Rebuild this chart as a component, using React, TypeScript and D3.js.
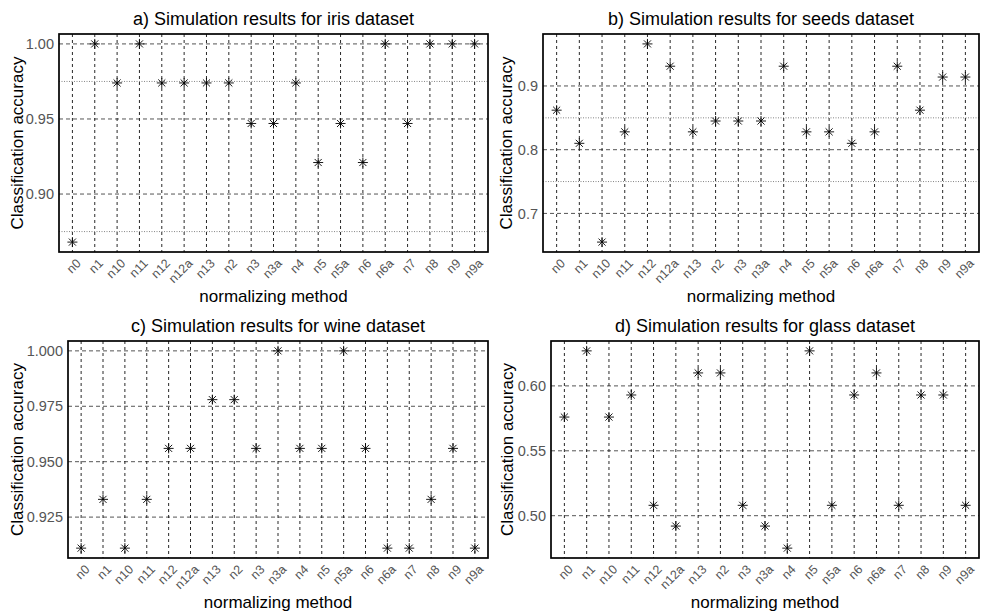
import React from "react";
import * as d3 from "d3";

const methods = ["n0","n1","n10","n11","n12","n12a","n13","n2","n3","n3a","n4","n5","n5a","n6","n6a","n7","n8","n9","n9a"];

const irisAcc = [0.868,1.0,0.974,1.0,0.974,0.974,0.974,0.974,0.947,0.947,0.974,0.921,0.947,0.921,1.0,0.947,1.0,1.0,1.0];
const seedsAcc = [0.862,0.810,0.655,0.828,0.966,0.931,0.828,0.845,0.845,0.845,0.931,0.828,0.828,0.810,0.828,0.931,0.862,0.914,0.914];
const wineAcc = [0.911,0.933,0.911,0.933,0.956,0.956,0.978,0.978,0.956,1.0,0.956,0.956,1.0,0.956,0.911,0.911,0.933,0.956,0.911];
const glassAcc = [0.576,0.627,0.576,0.593,0.508,0.492,0.610,0.610,0.508,0.492,0.475,0.627,0.508,0.593,0.610,0.508,0.593,0.593,0.508];

const irisTicks = [0.90,0.95,1.00];
const seedsTicks = [0.7,0.8,0.9];
const wineTicks = [0.925,0.950,0.975,1.000];
const glassTicks = [0.50,0.55,0.60];

const irisMinor = [0.875,0.975];
const seedsMinor = [0.75,0.85];

const titles = [
  "a) Simulation results for iris dataset",
  "b) Simulation results for seeds dataset",
  "c) Simulation results for wine dataset",
  "d) Simulation results for glass dataset",
];

const FONT = "'Liberation Sans', Arial, sans-serif";

type PanelProps = {
  title: string;
  values: number[];
  ticks: number[];
  minor: number[];
  fmt: string;
  x0: number; x1: number; y0: number; y1: number;
  ytitleX: number;
};

function Star({ cx, cy, r }: { cx: number; cy: number; r: number }) {
  const d = r * Math.SQRT1_2;
  return (
    <g stroke="#000" strokeWidth={0.9}>
      <line x1={cx - r} y1={cy} x2={cx + r} y2={cy} />
      <line x1={cx} y1={cy - r} x2={cx} y2={cy + r} />
      <line x1={cx - d} y1={cy - d} x2={cx + d} y2={cy + d} />
      <line x1={cx - d} y1={cy + d} x2={cx + d} y2={cy - d} />
    </g>
  );
}

function Panel(p: PanelProps) {
  const x = d3.scalePoint<string>().domain(methods).range([p.x0, p.x1]).padding(0.6);
  const [mn, mx] = d3.extent(p.values) as [number, number];
  const pad = (mx - mn) * 0.05;
  const y = d3.scaleLinear().domain([mn - pad, mx + pad]).range([p.y1, p.y0]);
  const f = d3.format(p.fmt);
  const cxm = (p.x0 + p.x1) / 2;
  return (
    <g>
      <rect x={p.x0} y={p.y0} width={p.x1 - p.x0} height={p.y1 - p.y0} fill="#fff" />
      {p.minor.map((t) => (
        <line key={"mi" + t} x1={p.x0} x2={p.x1} y1={y(t)} y2={y(t)} stroke="#666" strokeWidth={0.8} strokeDasharray="1,1.5" />
      ))}
      {p.ticks.map((t) => (
        <line key={"ma" + t} x1={p.x0} x2={p.x1} y1={y(t)} y2={y(t)} stroke="#555" strokeWidth={1} strokeDasharray="4,3" />
      ))}
      {methods.map((m) => (
        <line key={"v" + m} x1={x(m)} x2={x(m)} y1={p.y0} y2={p.y1} stroke="#111" strokeWidth={0.9} strokeDasharray="3,3" />
      ))}
      {p.values.map((v, i) => (
        <Star key={"s" + i} cx={x(methods[i]) as number} cy={y(v)} r={5} />
      ))}
      <rect x={p.x0} y={p.y0} width={p.x1 - p.x0} height={p.y1 - p.y0} fill="none" stroke="#000" strokeWidth={1.7} />
      {p.ticks.map((t) => (
        <text key={"yt" + t} x={p.x0 - 5} y={y(t)} dy="0.36em" textAnchor="end" fontSize={14.5} fill="#555" fontFamily={FONT}>{f(t)}</text>
      ))}
      {methods.map((m) => (
        <text key={"xt" + m} transform={`translate(${(x(m) as number) + 3},${p.y1 + 6}) rotate(-45)`} textAnchor="end" dy="0.7em" fontSize={12.5} fill="#555" fontFamily={FONT}>{m}</text>
      ))}
      <text x={cxm} y={p.y0 - 9} textAnchor="middle" fontSize={18} fill="#000" fontFamily={FONT}>{p.title}</text>
      <text x={cxm} y={p.y1 + 50} textAnchor="middle" fontSize={17} fill="#000" fontFamily={FONT}>normalizing method</text>
      <text transform={`translate(${p.ytitleX},${(p.y0 + p.y1) / 2}) rotate(-90)`} textAnchor="middle" fontSize={17} fill="#000" fontFamily={FONT}>Classification accuracy</text>
    </g>
  );
}

export default function App() {
  return (
    <svg width={981} height={614} style={{ position: "absolute", left: 0, top: 0, background: "#fff" }}>
      <rect width={981} height={614} fill="#fff" />
      <Panel title={titles[0]} values={irisAcc} ticks={irisTicks} minor={irisMinor} fmt=".2f" x0={59} x1={488} y0={34} y1={252} ytitleX={23} />
      <Panel title={titles[1]} values={seedsAcc} ticks={seedsTicks} minor={seedsMinor} fmt=".1f" x0={543} x1={979} y0={34} y1={252} ytitleX={512} />
      <Panel title={titles[2]} values={wineAcc} ticks={wineTicks} minor={[]} fmt=".3f" x0={68} x1={488} y0={341} y1={558} ytitleX={23} />
      <Panel title={titles[3]} values={glassAcc} ticks={glassTicks} minor={[]} fmt=".2f" x0={551} x1={979} y0={341} y1={558} ytitleX={513} />
    </svg>
  );
}
